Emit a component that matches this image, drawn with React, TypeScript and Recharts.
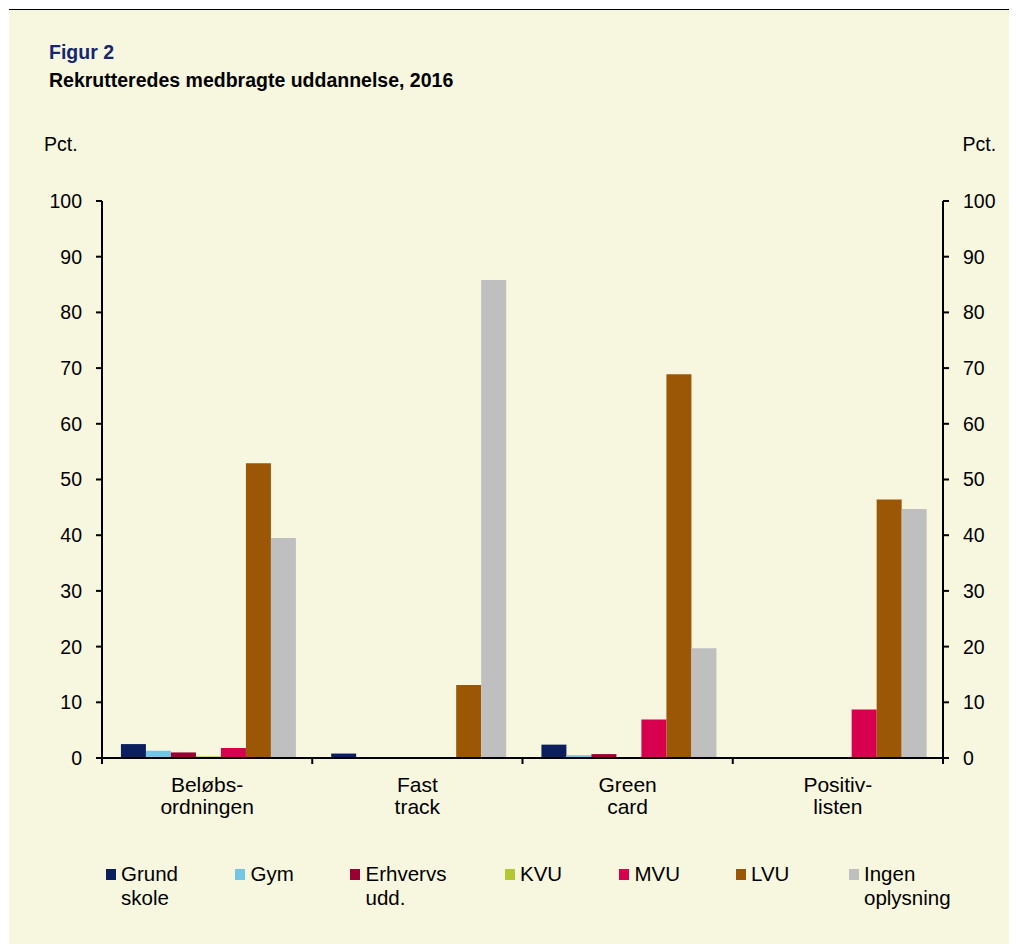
import React from 'react';
import { ComposedChart, Bar, Line, XAxis, YAxis } from 'recharts';

const categories = ['Beløbs-\nordningen', 'Fast\ntrack', 'Green\ncard', 'Positiv-\nlisten'];

const grundskole = [2.5, 0.8, 2.4, 0];
const gym = [1.3, 0, 0.5, 0];
const erhvervsudd = [1.0, 0, 0.7, 0];
const kvu = [0.3, 0, 0, 0];
const mvu = [1.8, 0, 6.9, 8.7];
const lvu = [52.9, 13.1, 68.9, 46.4];
const ingen = [39.5, 85.8, 19.7, 44.7];

const yTicks = [0, 10, 20, 30, 40, 50, 60, 70, 80, 90, 100];

const series = [
  { key: 'grund', label: 'Grund\nskole', values: grundskole, color: '#0b1f5e' },
  { key: 'gym', label: 'Gym', values: gym, color: '#72c7e7' },
  { key: 'erhv', label: 'Erhvervs\nudd.', values: erhvervsudd, color: '#990033' },
  { key: 'kvu', label: 'KVU', values: kvu, color: '#b2c832' },
  { key: 'mvu', label: 'MVU', values: mvu, color: '#d6004f' },
  { key: 'lvu', label: 'LVU', values: lvu, color: '#9b5706' },
  { key: 'ingen', label: 'Ingen\noplysning', values: ingen, color: '#bfbfbf' },
];

// legend item left edges (page layout, not data)
const legendLeft = [105.5, 235, 350, 504.5, 619, 735.5, 848.5];

const data = categories.map((name, i) => {
  const row: Record<string, string | number> = { name };
  series.forEach((s) => {
    row[s.key] = s.values[i];
  });
  return row;
});

const FONT = '"Liberation Sans", Arial, Helvetica, sans-serif';
const BG = '#f7f6df';

// category label plus the tick marks at the category edges
function CategoryTick(props: any) {
  const { x, y, payload, index, visibleTicksCount } = props;
  const lines = String(payload.value).split('\n');
  const half = payload.offset || 0;
  const last = index === (visibleTicksCount ?? categories.length) - 1;
  return (
    <g>
      {half > 0 && <line x1={x - half} x2={x - half} y1={y} y2={y + 6} stroke="#000" strokeWidth={2} />}
      {half > 0 && last && <line x1={x + half} x2={x + half} y1={y} y2={y + 6} stroke="#000" strokeWidth={2} />}
      <text x={x} textAnchor="middle" fontFamily={FONT} fontSize={21} fill="#000">
        {lines.map((l, i) => (
          <tspan key={i} x={x} y={y + 34 + i * 21.8}>
            {l}
          </tspan>
        ))}
      </text>
    </g>
  );
}

const axisStroke = { stroke: '#000', strokeWidth: 2 };

export default function App() {
  return (
    <div
      style={{
        position: 'relative',
        marginLeft: 1,
        marginTop: 1,
        width: 1008,
        height: 934,
        background: BG,
        borderTop: '1px solid #000',
        fontFamily: FONT,
        color: '#000',
      }}
    >
      <div style={{ position: 'absolute', left: 40, top: 32, fontSize: 19.5, lineHeight: '20px', fontWeight: 'bold', color: '#14286e' }}>
        Figur 2
      </div>
      <div style={{ position: 'absolute', left: 40, top: 60, fontSize: 19.5, lineHeight: '20px', fontWeight: 'bold' }}>
        Rekrutteredes medbragte uddannelse, 2016
      </div>
      <div style={{ position: 'absolute', left: 35, top: 124, fontSize: 19.5, lineHeight: '20px' }}>Pct.</div>
      <div style={{ position: 'absolute', left: 953.5, top: 124, fontSize: 19.5, lineHeight: '20px' }}>Pct.</div>

      <div style={{ position: 'absolute', left: 0, top: 0 }}>
        <ComposedChart
          width={1000}
          height={840}
          data={data}
          margin={{ top: 191, right: 6, left: 33, bottom: 32 }}
          barCategoryGap="9%"
          barGap={0}
        >
          <XAxis
            dataKey="name"
            height={60}
            axisLine={axisStroke}
            tickLine={false}
            tickSize={0}
            tickMargin={0}
            interval={0}
            tick={<CategoryTick />}
          />
          <YAxis
            yAxisId="left"
            orientation="left"
            width={60}
            domain={[0, 100]}
            ticks={yTicks}
            interval={0}
            tickSize={6}
            tickMargin={14}
            axisLine={axisStroke}
            tickLine={axisStroke}
            tick={{ fill: '#000', fontSize: 19.5, fontFamily: FONT }}
          />
          <YAxis
            yAxisId="right"
            orientation="right"
            width={60}
            domain={[0, 100]}
            ticks={yTicks}
            interval={0}
            tickSize={6}
            tickMargin={14}
            axisLine={axisStroke}
            tickLine={axisStroke}
            tick={{ fill: '#000', fontSize: 19.5, fontFamily: FONT }}
          />
          {series.map((s) => (
            <Bar
              key={s.key}
              dataKey={s.key}
              name={s.label}
              yAxisId="left"
              fill={s.color}
              isAnimationActive={false}
            />
          ))}
          {/* invisible series so the right-hand axis draws its ticks */}
          <Line
            dataKey="ingen"
            yAxisId="right"
            stroke="none"
            dot={false}
            activeDot={false}
            legendType="none"
            isAnimationActive={false}
          />
        </ComposedChart>
      </div>

      {series.map((s, i) => (
        <div key={s.key} style={{ position: 'absolute', left: legendLeft[i] - 9, top: 851.5 }}>
          <div style={{ position: 'absolute', left: 0, top: 7.5, width: 10, height: 10.5, background: s.color }} />
          <div style={{ position: 'absolute', left: 15.5, top: 0, fontSize: 20.5, lineHeight: '24.7px', whiteSpace: 'pre' }}>
            {s.label}
          </div>
        </div>
      ))}
    </div>
  );
}
